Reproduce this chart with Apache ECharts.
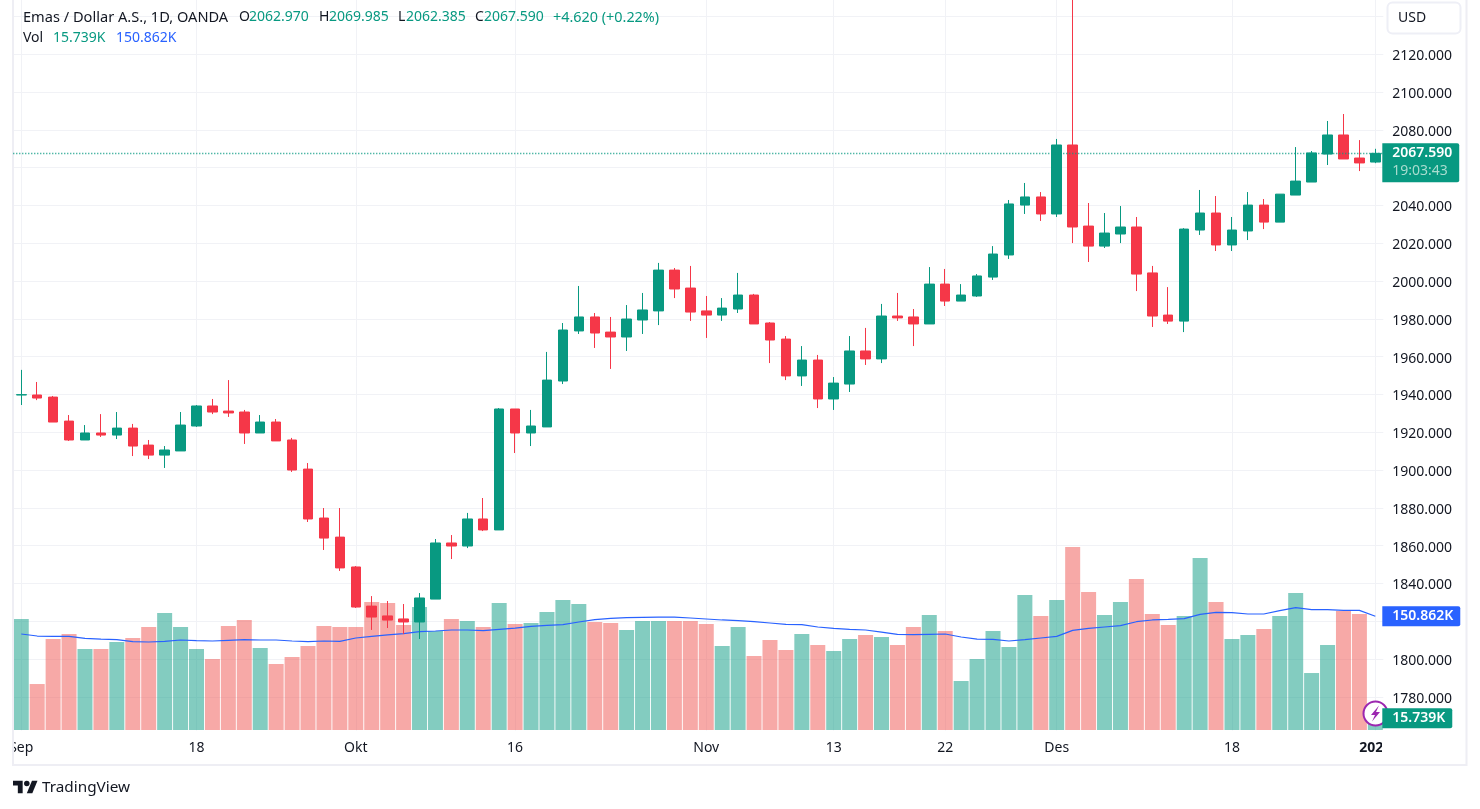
<!DOCTYPE html>
<html><head><meta charset="utf-8">
<style>html,body{margin:0;padding:0;background:#fff}#c{width:1480px;height:809px}</style>
<script src="https://cdn.jsdelivr.net/npm/echarts@6/dist/echarts.min.js"></script>
</head><body><div id="c"></div>
<script>
const categories=['2023-09-01','2023-09-04','2023-09-05','2023-09-06','2023-09-07','2023-09-08','2023-09-11','2023-09-12','2023-09-13','2023-09-14','2023-09-15','2023-09-18','2023-09-19','2023-09-20','2023-09-21','2023-09-22','2023-09-25','2023-09-26','2023-09-27','2023-09-28','2023-09-29','2023-10-02','2023-10-03','2023-10-04','2023-10-05','2023-10-06','2023-10-09','2023-10-10','2023-10-11','2023-10-12','2023-10-13','2023-10-16','2023-10-17','2023-10-18','2023-10-19','2023-10-20','2023-10-23','2023-10-24','2023-10-25','2023-10-26','2023-10-27','2023-10-30','2023-10-31','2023-11-01','2023-11-02','2023-11-03','2023-11-06','2023-11-07','2023-11-08','2023-11-09','2023-11-10','2023-11-13','2023-11-14','2023-11-15','2023-11-16','2023-11-17','2023-11-20','2023-11-21','2023-11-22','2023-11-23','2023-11-24','2023-11-27','2023-11-28','2023-11-29','2023-11-30','2023-12-01','2023-12-04','2023-12-05','2023-12-06','2023-12-07','2023-12-08','2023-12-11','2023-12-12','2023-12-13','2023-12-14','2023-12-15','2023-12-18','2023-12-19','2023-12-20','2023-12-21','2023-12-22','2023-12-26','2023-12-27','2023-12-28','2023-12-29','2024-01-01'];
const opens=[1939.7,1939.7,1938.6,1925.9,1915.9,1919.6,1918.5,1922.2,1913.2,1907.9,1910.1,1923.3,1933.9,1931.2,1930.7,1919.6,1925.4,1915.9,1900.5,1874.6,1864.5,1848.7,1828.0,1822.8,1821.2,1819.6,1831.7,1861.4,1859.8,1874.1,1868.3,1932.3,1919.6,1922.8,1947.1,1973.6,1981,1973,1970.4,1979.4,1984.2,2005.8,1996.3,1984.2,1982,1985.2,1992.6,1977.8,1969.3,1949.8,1958.2,1937.6,1945.5,1963,1958.8,1981.5,1981,1977.3,1998.4,1989.4,1992.1,2002.1,2013.8,2040.2,2044.5,2035.5,2072,2029.1,2018.5,2024.9,2028.6,2004.3,1982,1978.8,2027,2036,2019.1,2026.5,2040.2,2031.2,2045.5,2052.4,2067.2,2077.3,2065.1,2062.97];
const closes=[1939.9,1938.1,1925.4,1915.9,1919.6,1918.5,1922.2,1912.7,1907.9,1910.6,1923.8,1933.9,1930.7,1930.2,1919.6,1925.4,1915.4,1900,1874.1,1864,1848.2,1827.5,1822.2,1820.6,1819.6,1832.3,1861.4,1859.8,1874.1,1868.3,1932.3,1919.6,1923.3,1947.6,1974.1,1981,1972.5,1970.4,1979.9,1984.7,2005.8,1995.8,1983.6,1982,1985.7,1992.6,1977.3,1968.8,1949.8,1958.2,1937.6,1946,1963,1958.8,1981.5,1980.5,1977.3,1998.4,1989.4,1992.6,2002.7,2014.3,2040.8,2044.5,2035.5,2072,2028.6,2018.5,2025.4,2028.6,2003.7,1981.5,1978.8,2027.5,2036,2019.1,2027,2040.2,2031.2,2046,2052.9,2067.8,2077.3,2064.6,2062.5,2067.59];
const lows=[1934.4,1937,1925.4,1915.4,1915.9,1917.5,1916.4,1907.4,1905.8,1901.1,1910.1,1922.8,1929.6,1928.1,1913.8,1919.6,1915.4,1899,1872.5,1857.7,1846.6,1827,1815.4,1816.4,1813.2,1810.6,1831.7,1852.9,1858.7,1867.7,1868.3,1909,1912.7,1922.8,1945.5,1972,1964.6,1953.5,1963,1972,1976.7,1991,1978.9,1969.9,1978.9,1983.1,1977.3,1956.6,1947.6,1944.5,1932.8,1931.8,1941.3,1955.6,1956.6,1978.9,1965.6,1977.3,1986.8,1989.4,1991.6,2000.6,2011.7,2035.5,2031.8,2033.9,2020.1,2010.1,2017.5,2020.1,1994.7,1975.7,1977.3,1973,2024.4,2015.9,2015.9,2021.7,2027.5,2031.2,2045.5,2052.4,2061.4,2064.6,2058.2,2062.385];
const highs=[1953,1946.6,1939.2,1929.1,1923.8,1929.6,1930.7,1924.4,1915.9,1912.7,1930.7,1934.4,1937.6,1947.6,1931.8,1929.1,1927,1917,1903.7,1879.9,1879.9,1849.2,1833.3,1830.7,1829.1,1834.9,1863.5,1865.6,1877.3,1885.2,1932.8,1932.3,1931.8,1962.5,1977.8,1997.4,1983.1,1981,1987.3,1993.7,2009.6,2006.9,2008,1992.1,1991,2004.3,1993.2,1978.3,1970.9,1965.6,1960.9,1949.2,1970.9,1975.2,1987.9,1993.7,1985.2,2007.4,2006.4,1998.4,2003.7,2018.5,2042.9,2051.9,2047.1,2075.2,2152,2041.3,2036,2039.7,2033.9,2008,1996.8,2028,2048.2,2045,2033.9,2047.1,2043.4,2046,2070.9,2068.8,2084.7,2088.4,2074.6,2069.985];
const volumes=[147.3,61,120.7,127.4,107.5,107.5,116.8,122.1,136.7,155.2,136.7,107.5,94.2,138,146,108.8,87.6,96.9,111.5,138,136.7,136.7,169.8,168.5,139.3,163.2,131.4,147.3,144.6,136.7,168.5,140.7,142,156.6,172.5,167.2,143.3,142,132.7,144.6,144.6,144.6,144.6,140.7,111.5,136.7,98.2,119.4,106.2,127.4,112.8,104.8,120.7,126.1,123.4,112.8,136.7,152.6,131.4,65,94.2,131.4,110.1,179.1,151.3,172.5,242.8,183.1,152.6,169.8,200.4,153.9,139.3,151.3,228.2,169.8,120.7,126.1,134,151.3,181.8,75.6,112.8,157.9,153.9,15.739];
const volumeMA=[127.4,124.7,124.3,124.3,121.6,120.7,119.9,117.2,116.8,117.7,119.4,118.5,118.1,119,119.9,119.4,119.4,118.1,117.2,118.1,117.7,122.1,124.3,126.1,127.8,130.5,131.4,132.7,132.7,131.8,133.6,135.3,137.6,138.9,139.8,143.3,146.4,148.2,149.1,149.5,149.9,149.9,148.6,147.3,146,145.1,143.7,142,140.2,139.8,136.7,134.9,133.6,132.7,130,126.9,126.5,126.9,127.4,123.4,120.7,120.3,118.1,119.9,122.1,124.3,132.2,134.9,136.7,138.4,143.7,146,146.8,147.7,153.5,156.1,155.7,153.9,153.9,158.3,162.3,159.7,159.7,158.8,158.8,150.862];
const tickIndex=[0,11,21,31,43,51,58,65,76,85];
const tickText=['Sep','18','Okt','16','Nov','13','22','Des','18','2024'];
const hiddenPriceLabels=[1760,1820,2060,2140,2160];
const lastClose=2067.59, lastCountdown='19:03:43';
const lastVolume=15.739, lastMA=150.862;

const FONT='"Noto Sans"', GREEN='#089981', RED='#f53748', GRID='#f1f2f6', TXT='#131722';
const BUP='rgba(8,153,129,0.5)', BDN='rgba(239,83,80,0.5)';
const L=13.3, W=1370;

const seg=(x,y,t,fill,fs)=>({type:'text',x,y,z:60,style:{text:t,fill,font:(fs||14)+'px '+FONT,verticalAlign:'middle'}});
const box=(x,y,w,h)=>({type:'rect',z:55,silent:true,shape:{x,y,width:w,height:h},style:{fill:'#fff'}});
const chart=echarts.init(document.getElementById('c'),null,{width:1480,height:809,renderer:'canvas'});
chart.setOption({
 animation:false,backgroundColor:'#fff',
 grid:[{left:L,width:W,top:-21.3,height:755.9,outerBoundsMode:'none'},{left:L,width:W,top:541.6,height:188.4,outerBoundsMode:'none'}],
 xAxis:[
  {type:'category',gridIndex:0,data:categories,boundaryGap:true,axisLine:{show:false},axisTick:{show:false},axisLabel:{show:false},
   splitLine:{show:true,alignWithLabel:true,interval:(i)=>tickIndex.includes(i),lineStyle:{color:GRID,width:1}}},
  {type:'category',gridIndex:1,data:categories,boundaryGap:true,axisLine:{show:false},axisTick:{show:false},splitLine:{show:false},
   axisLabel:{show:true,hideOverlap:false,interval:(i)=>tickIndex.includes(i),margin:11,fontFamily:FONT,fontSize:14,color:TXT,
    formatter:(v,i)=>{const t=tickText[tickIndex.indexOf(i)];return t==='2024'?'{b|2024}':t;},
    rich:{b:{fontFamily:FONT,fontSize:14,fontWeight:'bold',color:TXT}}}}
 ],
 yAxis:[
  {type:'value',gridIndex:0,position:'right',min:1760,max:2160,interval:20,axisLine:{show:false},axisTick:{show:false},
   splitLine:{show:true,showMinLine:false,showMaxLine:false,lineStyle:{color:GRID,width:1}},
   axisLabel:{margin:9,fontFamily:FONT,fontSize:14,color:TXT,align:'left',hideOverlap:false,
    formatter:(v)=>hiddenPriceLabels.includes(v)?'':'{p|'+v.toFixed(3)+'}',
    rich:{p:{fontFamily:FONT,fontSize:14,color:TXT,padding:[4,0,0,0]}}}},
  {type:'value',gridIndex:1,position:'right',min:0,max:250,show:false,splitLine:{show:false}}
 ],
 series:[
  {name:'Vol',type:'bar',xAxisIndex:1,yAxisIndex:1,barWidth:15,z:2,
   data:volumes.map((v,i)=>({value:v,itemStyle:{color:closes[i]>=opens[i]?BUP:BDN}})),
   markLine:{silent:true,symbol:'none',z:70,animation:false,lineStyle:{color:'transparent',width:1},
    label:{show:true,position:'end',distance:-1,formatter:lastVolume.toFixed(3)+'K',color:'#fff',backgroundColor:GREEN,borderRadius:[0,2,2,0],fontFamily:FONT,fontSize:14,padding:[3,7,3,10],fontWeight:600},
    data:[{yAxis:lastVolume}]}},
  {name:'Vol MA',type:'line',xAxisIndex:1,yAxisIndex:1,data:volumeMA,showSymbol:false,symbol:'none',z:3,lineStyle:{color:'#2962FF',width:1.2},
   markLine:{silent:true,symbol:'none',z:70,animation:false,lineStyle:{color:'transparent',width:1},
    label:{show:true,position:'end',distance:-1,formatter:lastMA.toFixed(3)+'K',color:'#fff',backgroundColor:'#2962FF',borderRadius:[0,2,2,0],fontFamily:FONT,fontSize:14,padding:[3,7,3,10],fontWeight:600},
    data:[{yAxis:lastMA}]}},
  {name:'Emas',type:'candlestick',xAxisIndex:0,yAxisIndex:0,barWidth:10,z:4,
   data:opens.map((o,i)=>[o,closes[i],lows[i],highs[i]]),
   itemStyle:{color:GREEN,color0:RED,borderColor:GREEN,borderColor0:RED,borderWidth:1},
   markLine:{silent:true,symbol:'none',z:70,animation:false,lineStyle:{color:GREEN,type:[1,2],width:1.3},
    label:{show:true,position:'end',distance:-1,offset:[0,9.5],formatter:'{a|'+lastClose.toFixed(3)+'}\n{b|'+lastCountdown+'}',backgroundColor:GREEN,borderRadius:[0,2,2,0],padding:[1,7,2,10],
     rich:{a:{color:'#fff',fontFamily:FONT,fontSize:14,fontWeight:600,lineHeight:18},b:{color:'#a8dccf',fontFamily:FONT,fontSize:14,lineHeight:18}}},
    data:[{yAxis:lastClose}]}}
 ],
 graphic:[
  box(13,730.5,1369,5),
  box(1382,731,83,33),
  box(0,731,12,33),
  {type:'rect',z:56,silent:true,shape:{x:13,y:-3,width:1453.5,height:768},style:{fill:'none',stroke:'#eeeef4',lineWidth:2}},
  {type:'rect',z:56,silent:true,shape:{x:1387.5,y:2.5,width:73,height:31,r:5},style:{fill:'#fff',stroke:'#eeeff6',lineWidth:2}},
  seg(1398,18,'USD',TXT),
  seg(23,17.5,'Emas / Dollar A.S., 1D, OANDA',TXT,14.6),
  seg(239,17.5,'O',TXT),seg(249,17.5,'2062.970',GREEN),
  seg(319,17.5,'H',TXT),seg(329,17.5,'2069.985',GREEN),
  seg(398,17.5,'L',TXT),seg(406,17.5,'2062.385',GREEN),
  seg(475,17.5,'C',TXT),seg(484,17.5,'2067.590',GREEN),
  seg(553,17.5,'+4.620 (+0.22%)',GREEN,14.4),
  seg(23,38,'Vol',TXT),seg(53,38,'15.739K',GREEN),seg(116,38,'150.862K','#2962FF'),
  {type:'circle',z:52,silent:true,shape:{cx:1375.5,cy:713.5,r:12},style:{fill:'#fff',stroke:'#9c27b0',lineWidth:2}},
  {type:'polygon',z:53,silent:true,shape:{points:[[1379,705.5],[1371,715],[1375,715],[1372,721.5],[1380,712],[1376,712]]},style:{fill:'#9c27b0'}},
  {type:'polygon',z:60,silent:true,x:13,y:778,scaleX:0.69,scaleY:0.69,shape:{points:[[0,4],[14,4],[14,22],[7,22],[7,11],[0,11]]},style:{fill:TXT}},
  {type:'polygon',z:60,silent:true,x:13,y:778,scaleX:0.69,scaleY:0.69,shape:{points:[[28,22],[20,22],[27.5,4],[35.5,4]]},style:{fill:TXT}},
  {type:'circle',z:60,silent:true,shape:{cx:26.8,cy:783.5,r:2.76},style:{fill:TXT}},
  {type:'text',z:60,x:42,y:787.5,style:{text:'TradingView',fill:TXT,font:'15.3px '+FONT,verticalAlign:'middle'}}
 ]
});
</script></body></html>
